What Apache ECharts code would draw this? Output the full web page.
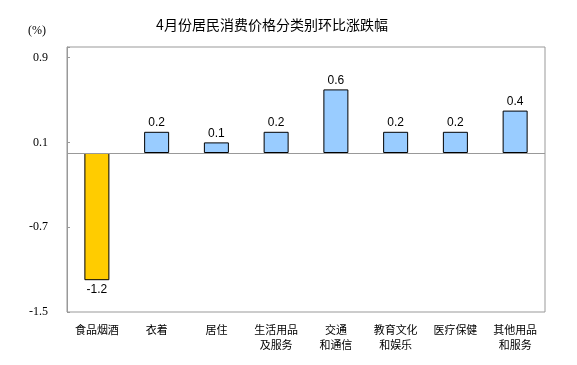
<!DOCTYPE html>
<html><head><meta charset="utf-8">
<script src="https://cdn.jsdelivr.net/npm/echarts@6/dist/echarts.min.js"></script>
<style>html,body{margin:0;padding:0;background:#fff}#c{width:577px;height:365px}</style>
</head><body><div id="c"></div>
<script>
var categories = ['食品烟酒','衣着','居住','生活用品\n及服务','交通\n和通信','教育文化\n和娱乐','医疗保健','其他用品\n和服务'];
var values = [-1.2, 0.2, 0.1, 0.2, 0.6, 0.2, 0.2, 0.4];
var yTicks = [-1.5, -0.7, 0.1, 0.9];
var title = '4月份居民消费价格分类别环比涨跌幅';
var unit = '(%)';

var chart = echarts.init(document.getElementById('c'), null, {renderer:'canvas'});
chart.setOption({
  animation:false,
  backgroundColor:'#fff',
  title:{text:title, left:267, top:13, textAlign:'center',
    textStyle:{fontSize:14, fontWeight:'normal', color:'#000', fontFamily:'Noto Sans CJK SC'}},
  graphic:[{type:'text', left:28, top:25, style:{text:unit, font:'12px "Liberation Serif"', fill:'#000'}}],
  grid:{left:67, right:32, top:47, bottom:53, show:true, borderColor:'#999', borderWidth:1, containLabel:false},
  xAxis:{type:'category', data:categories, position:'bottom',
    axisLine:{show:false, onZero:false}, axisTick:{show:false},
    axisLabel:{interval:0, margin:10, fontSize:11, lineHeight:15, color:'#000', fontFamily:'Noto Sans CJK SC'}},
  yAxis:{type:'value', min:-1.5, max:1.0, interval:0.8,
    axisLine:{show:true, lineStyle:{color:'#999'}},
    axisTick:{show:true, inside:true, length:3, lineStyle:{color:'#999'}},
    splitLine:{show:false},
    axisLabel:{margin:19, fontSize:12, color:'#000', fontFamily:'Liberation Serif',
      formatter:function(v){
        for (var i=0;i<yTicks.length;i++){ if (Math.abs(v-yTicks[i])<1e-6) return yTicks[i].toFixed(1); }
        return '';
      }}},
  series:[{type:'bar', data:values.map(function(v){
      return {value:v, itemStyle:{color: v<0 ? '#FFCC00' : '#99CCFF'},
        label:{position: v<0 ? 'bottom' : 'top'}};
    }),
    barWidth:25,
    itemStyle:{borderColor:'#000', borderWidth:1},
    label:{show:true, fontSize:12, color:'#000', fontFamily:'Liberation Sans', distance:3,
      formatter:function(p){return p.value.toFixed(1);}},
    markLine:{silent:true, symbol:'none', label:{show:false},
      lineStyle:{color:'#999', type:'solid', width:1},
      data:[{yAxis:0}]},
    z:3
  }]
});
</script></body></html>
